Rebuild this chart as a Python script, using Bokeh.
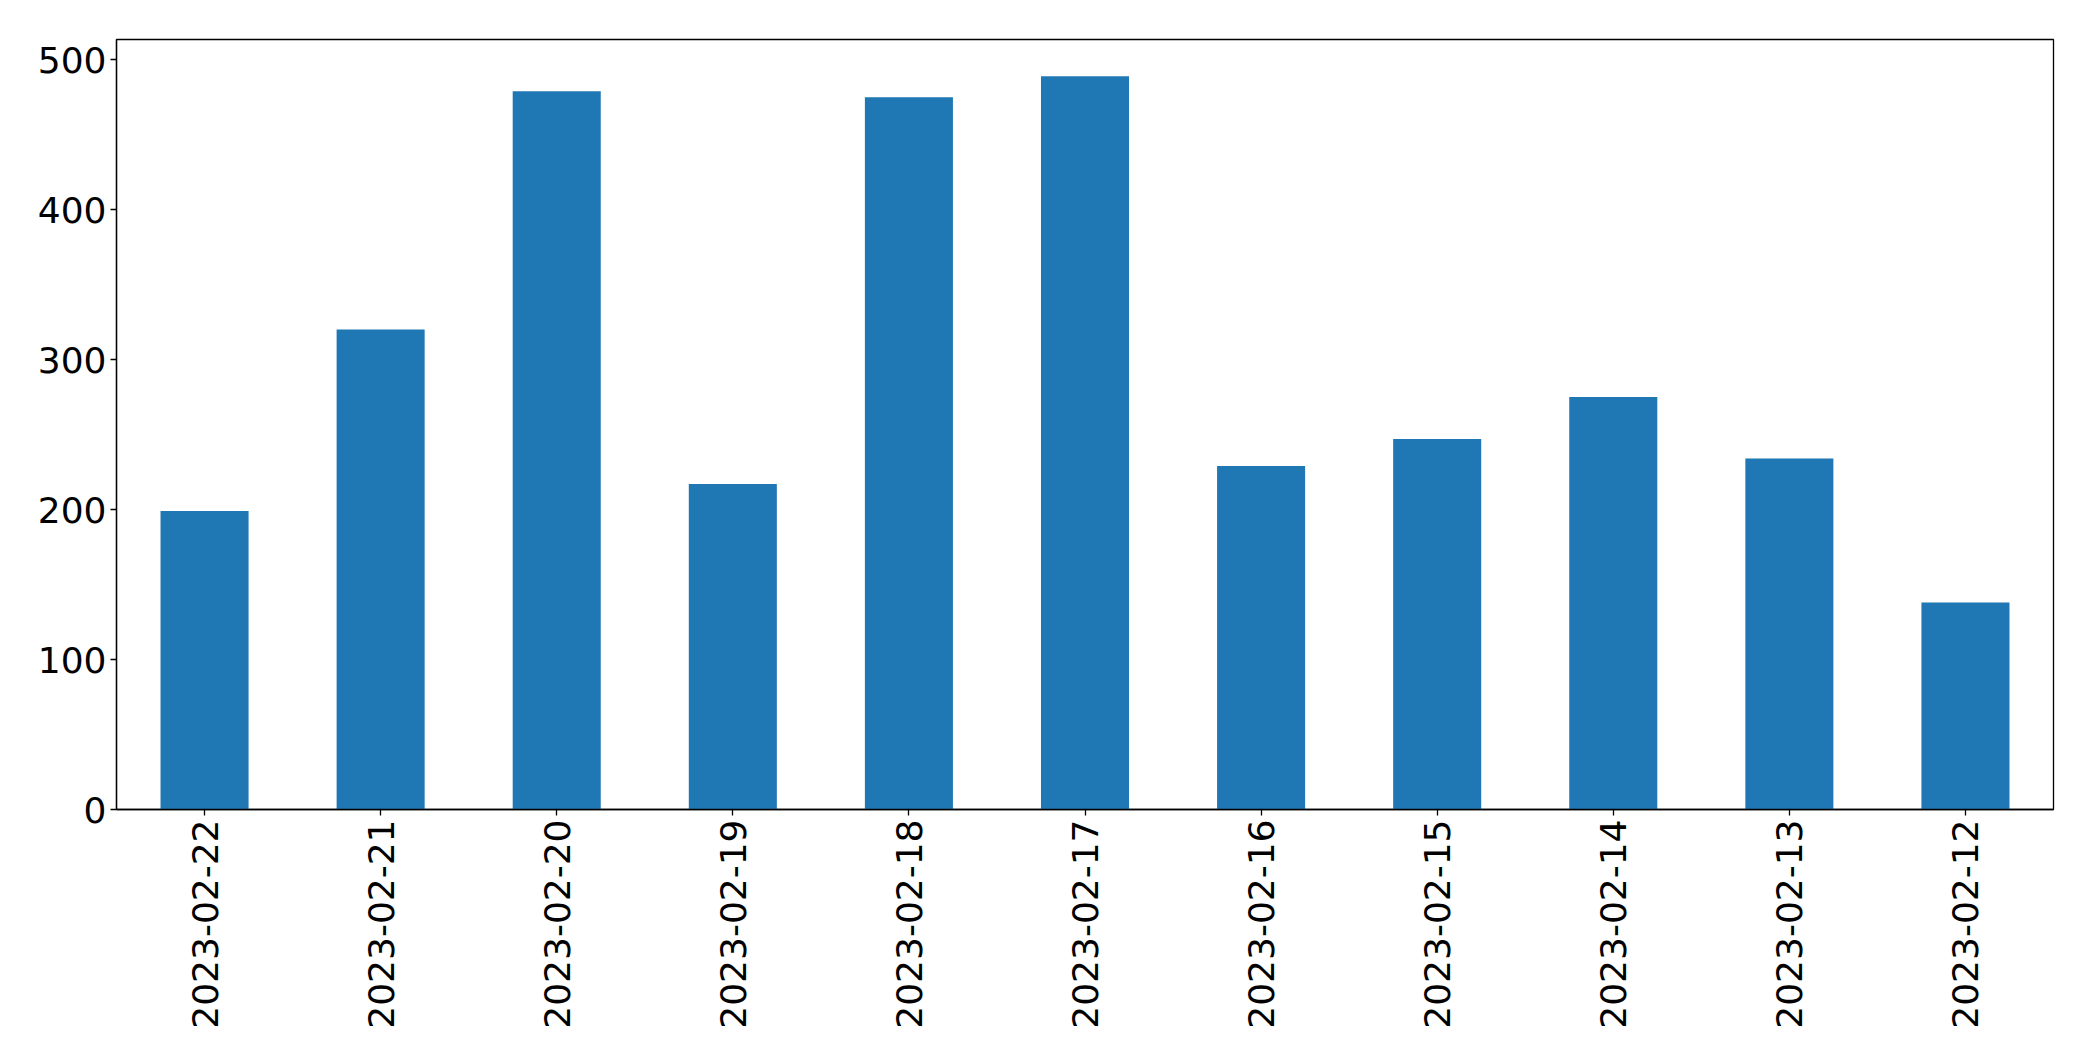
import math
from bokeh.plotting import figure
from bokeh.models import Range1d, FactorRange
from bokeh.embed import file_html
from bokeh.resources import INLINE

dates = ["2023-02-22", "2023-02-21", "2023-02-20", "2023-02-19", "2023-02-18",
         "2023-02-17", "2023-02-16", "2023-02-15", "2023-02-14", "2023-02-13",
         "2023-02-12"]
counts = [199, 320, 479, 217, 475, 489, 229, 247, 275, 234, 138]
y_ticks = [0, 100, 200, 300, 400, 500]

p = figure(x_range=FactorRange(*dates), y_range=Range1d(0, max(counts) * 1.05),
           frame_width=1937, frame_height=770,
           min_border_left=116, min_border_top=39, min_border_right=24, min_border_bottom=30,
           output_backend="svg", toolbar_location=None)

p.vbar(x=dates, top=counts, width=0.5, color="#1f77b4", line_color=None)

p.xgrid.visible = False
p.ygrid.visible = False
p.outline_line_color = "black"
p.outline_line_alpha = 1
p.outline_line_width = 1.3

for ax in (p.xaxis, p.yaxis):
    ax.axis_line_color = "black"
    ax.axis_line_width = 1.3
    ax.major_tick_line_color = "black"
    ax.major_tick_line_width = 1.3
    ax.major_tick_out = 6
    ax.major_tick_in = 0
    ax.minor_tick_line_color = None
    ax.major_label_text_font = "DejaVu Sans"
    ax.major_label_text_font_size = "36px"
    ax.major_label_text_color = "black"
    ax.major_label_standoff = 4

p.yaxis.ticker = y_ticks
p.xaxis.major_label_orientation = math.pi / 2
p.xaxis.group_text_font_size = "0px"

open("out.html", "w").write(file_html(p, INLINE))
